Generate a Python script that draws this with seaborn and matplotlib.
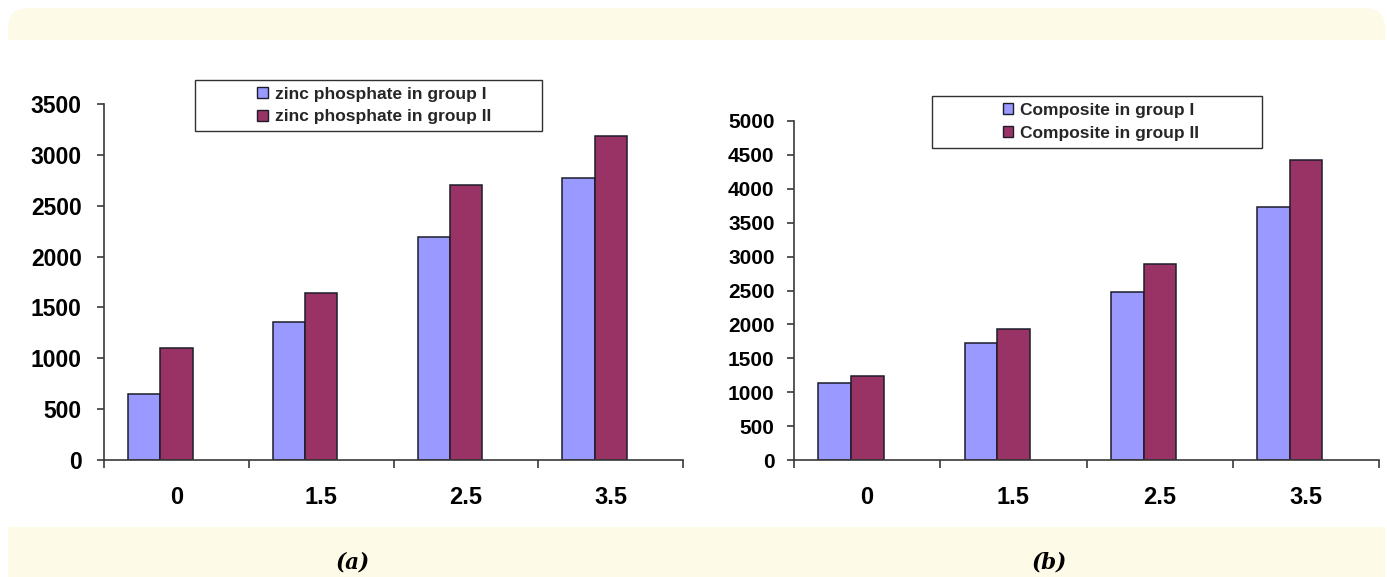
import matplotlib
matplotlib.use("Agg")
import matplotlib.pyplot as plt
import numpy as np
import pandas as pd
import seaborn as sns
from matplotlib.patches import FancyBboxPatch, Rectangle, Patch

# Doses on the x axis and bar heights of each group
doses = ["0", "1.5", "2.5", "3.5"]
zinc_group_1 = [645, 1355, 2195, 2770]
zinc_group_2 = [1100, 1645, 2700, 3190]
composite_group_1 = [1130, 1720, 2475, 3730]
composite_group_2 = [1240, 1935, 2890, 4425]

zinc_labels = ["zinc phosphate in group I", "zinc phosphate in group II"]
composite_labels = ["Composite in group I", "Composite in group II"]

zinc_yticks = list(range(0, 3501, 500))
composite_yticks = list(range(0, 5001, 500))

BLUE = "#9999FF"
PLUM = "#993366"
EDGE = "#1c1c2a"
AXIS = "#3a3a3a"
CREAM = "#FEFAE8"

sns.set_theme(style="ticks")
plt.rcParams["font.family"] = ["Liberation Sans", "DejaVu Sans"]

W, H = 1387, 577
fig = plt.figure(figsize=(W / 100, H / 100), dpi=100)
fig.patch.set_facecolor("white")

# page panel: cream rounded card with a white band holding the charts
px = fig.dpi_scale_trans
card = FancyBboxPatch((0.08, -0.2), 13.77, 5.69 + 0.2,
                      boxstyle="round,pad=0,rounding_size=0.2",
                      facecolor=CREAM, edgecolor="none", transform=px, zorder=-10)
band = Rectangle((0.08, (H - 527) / 100), 13.77, (527 - 40) / 100,
                 facecolor="white", edgecolor="none", transform=px, zorder=-9)
fig.patches.extend([card, band])


def fig_box(x0, y0, x1, y1):
    return [x0 / W, 1 - y1 / H, (x1 - x0) / W, (y1 - y0) / H]


def draw_panel(ax, g1, g2, labels, yticks, ylab_size, ypad,
               legend_center, legend_box):
    df = pd.DataFrame({
        "dose": doses * 2,
        "group": [labels[0]] * len(doses) + [labels[1]] * len(doses),
        "value": list(g1) + list(g2),
    })
    sns.barplot(data=df, x="dose", y="value", hue="group", order=doses,
                hue_order=labels, palette=[BLUE, PLUM], saturation=1,
                width=0.445, dodge=True, errorbar=None, legend=False,
                edgecolor=EDGE, linewidth=1.1, ax=ax)
    ax.set_facecolor("none")
    ax.set_xlabel("")
    ax.set_ylabel("")
    sns.despine(ax=ax)
    for side in ("left", "bottom"):
        ax.spines[side].set_color(AXIS)
        ax.spines[side].set_linewidth(1.2)

    n = len(doses)
    lo = -0.39
    ax.set_xlim(lo, lo + n)
    ax.set_ylim(yticks[0], yticks[-1])

    # category boundary ticks, labels centred under each group
    ax.set_xticks(lo + np.arange(n + 1), labels=[])
    ax.set_xticks(np.arange(n) + 0.11, labels=doses, minor=True,
                  fontsize=17, fontweight="bold", color="black")
    ax.tick_params(axis="x", which="major", bottom=True, length=6, width=1.2,
                   color=AXIS, direction="out")
    ax.tick_params(axis="x", which="minor", bottom=True, length=0, pad=19)

    ax.set_yticks(yticks, labels=[str(v) for v in yticks],
                  fontsize=ylab_size, fontweight="bold", color="black")
    ax.tick_params(axis="y", which="major", left=True, length=5, width=1.2,
                   color=AXIS, direction="out", pad=ypad)

    handles = [Patch(facecolor=c, edgecolor=EDGE, linewidth=1.0)
               for c in (BLUE, PLUM)]
    ax.legend(handles, labels, loc="center",
              bbox_to_anchor=(legend_center[0] / W, 1 - legend_center[1] / H),
              bbox_transform=fig.transFigure, frameon=False,
              prop=dict(family="Liberation Sans", weight="bold", size=12.5),
              handlelength=0.6, handleheight=0.6, handletextpad=0.4,
              labelspacing=0.45, borderpad=0, borderaxespad=0)
    x0, y0, x1, y1 = legend_box
    fig.add_artist(Rectangle((x0 / W, 1 - y1 / H), (x1 - x0) / W, (y1 - y0) / H,
                             transform=fig.transFigure, facecolor="none",
                             edgecolor="#303030", linewidth=1.0, zorder=5))


ax_a = fig.add_axes(fig_box(104, 104, 683, 460))
draw_panel(ax_a, zinc_group_1, zinc_group_2, zinc_labels, zinc_yticks,
           16.5, 11, (374, 105.5), (195, 80, 542, 131))

ax_b = fig.add_axes(fig_box(794, 121, 1379, 460))
draw_panel(ax_b, composite_group_1, composite_group_2, composite_labels,
           composite_yticks, 15, 9, (1101, 122), (932, 96, 1262, 148))

caption = dict(ha="center", va="center", family="DejaVu Serif",
               style="italic", weight="bold", size=15.5, color="black")
fig.text(353 / W, 1 - 563 / H, "(a)", **caption)
fig.text(1049 / W, 1 - 563 / H, "(b)", **caption)

fig.savefig("out.png", dpi=100)
